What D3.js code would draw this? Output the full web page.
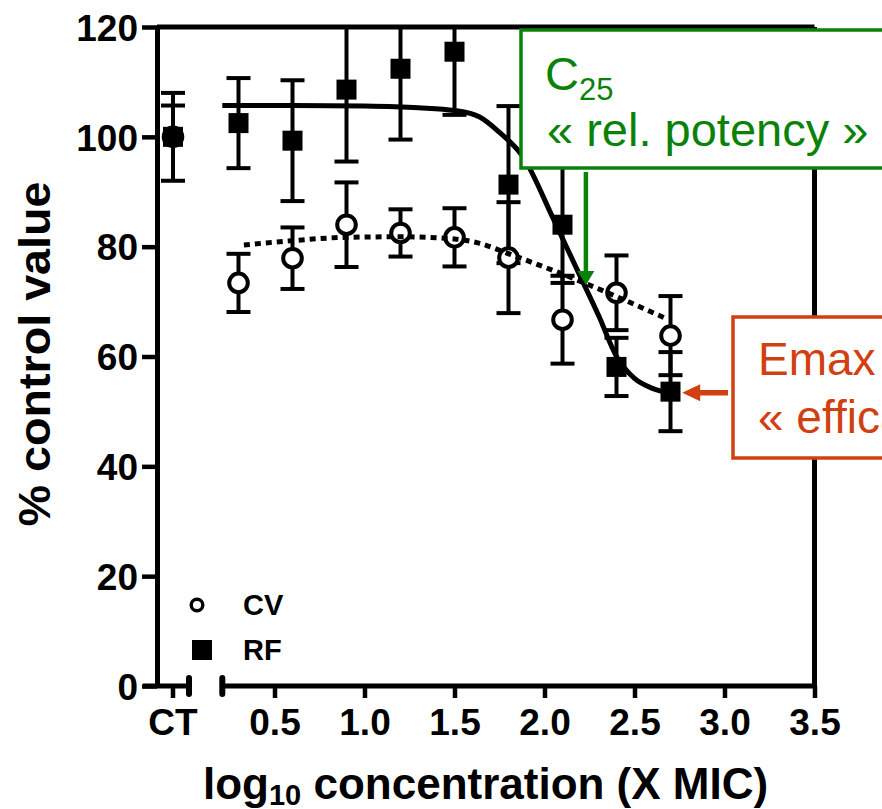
<!DOCTYPE html>
<html lang="en">
<head>
  <meta charset="UTF-8">
  <title>Dose response CV / RF</title>
  <style>
    body { margin: 0; background: #fff; }
    text { font-family: "Liberation Sans", Arial, sans-serif; }
  </style>
</head>
<body>
<svg width="882" height="809" id="viz"></svg>
<script src="https://cdn.jsdelivr.net/npm/d3@7"></script>
<script>
/* global d3 */

// concentrations (log10 X MIC), "CT" = control
let doses = ["CT", 0.3, 0.6, 0.9, 1.2, 1.5, 1.8, 2.1, 2.4, 2.7];

// CV (open circles), mean and error
let cvMean = [100, 73.4, 77.9, 84.0, 82.5, 81.7, 78.0, 66.7, 71.6, 63.8];
let cvErr  = [8.0, 5.3, 5.6, 7.7, 4.3, 5.3, 10.1, 8.0, 6.8, 7.2];

// RF (filled squares), mean, error above and below
let rfMean    = [100, 102.5, 99.3, 108.6, 112.4, 115.5, 91.3, 84.0, 58.1, 53.6];
let rfErrUp   = [5.7, 8.2, 11.0, 13.1, 12.9, 11.5, 14.3, 10.6, 5.3, 7.2];
let rfErrDown = [0, 8.2, 11.0, 13.1, 12.9, 11.5, 14.3, 10.6, 5.3, 7.2];

// fitted curves
let rfFitX = [0.21, 0.6, 1.0, 1.3, 1.5, 1.64, 1.75, 1.88, 2.05, 2.2, 2.3, 2.4, 2.5, 2.6, 2.7];
let rfFitY = [105.7, 105.7, 105.6, 105.3, 104.8, 103.6, 100.8, 96.4, 85.0, 74.5, 67.5, 60.0, 56.0, 54.2, 53.3];
let cvFitX = [0.33, 0.6, 0.9, 1.2, 1.5, 1.64, 1.81, 2.1, 2.38, 2.67];
let cvFitY = [80.3, 81.1, 81.7, 81.8, 81.4, 80.6, 78.6, 75.0, 71.2, 67.0];

let xTicks = [0.5, 1.0, 1.5, 2.0, 2.5, 3.0, 3.5];
let yTicks = [0, 20, 40, 60, 80, 100, 120];

// annotated points
let c25 = {x: 2.23, y: 73};
let emax = {x: 2.765, y: 53.4};

let svg = d3.select("#viz");

let x = d3.scaleLinear().domain([0, 3.5]).range([184.5, 814.5]);
let y = d3.scaleLinear().domain([0, 120]).range([686, 27]);
let ctX = 173;
let xPos = d => d === "CT" ? ctX : x(d);
let axisStart = 0.21;

svg.append("defs").append("clipPath").attr("id", "plotclip")
  .append("rect").attr("x", 140).attr("y", y(120)).attr("width", 690).attr("height", 700);

// frame (top + right)
svg.append("line").attr("x1", 157).attr("x2", x(3.5)).attr("y1", y(120)).attr("y2", y(120))
  .attr("stroke", "#000").attr("stroke-width", 5);
svg.append("line").attr("x1", x(3.5)).attr("x2", x(3.5)).attr("y1", y(120)).attr("y2", y(0))
  .attr("stroke", "#000").attr("stroke-width", 5);

// y axis
let yAxis = svg.append("g").attr("transform", "translate(157,0)")
  .call(d3.axisLeft(y).tickValues(yTicks).tickSize(15).tickPadding(4).tickSizeOuter(0));
yAxis.select(".domain").attr("stroke-width", 5);
yAxis.selectAll(".tick line").attr("stroke-width", 4.5);
yAxis.selectAll("text").attr("font-size", 37).attr("font-weight", "bold")
  .attr("font-family", "'Liberation Sans', Arial, sans-serif").attr("dy", "0.36em");

// x axis
let xAxis = svg.append("g").attr("transform", "translate(0,686)")
  .call(d3.axisBottom(x).tickValues(xTicks).tickSize(12).tickPadding(11).tickFormat(d3.format(".1f")));
xAxis.select(".domain").remove();
xAxis.selectAll(".tick line").attr("stroke-width", 4.5);
xAxis.selectAll("text").attr("font-size", 37).attr("font-weight", "bold")
  .attr("font-family", "'Liberation Sans', Arial, sans-serif");
xAxis.append("line").attr("x1", x(axisStart)).attr("x2", x(3.5)).attr("stroke", "#000").attr("stroke-width", 5);

// CT segment of the broken axis
xAxis.append("line").attr("x1", 143).attr("x2", 189).attr("stroke", "#000").attr("stroke-width", 5);
xAxis.append("line").attr("x1", ctX).attr("x2", ctX).attr("y1", 0).attr("y2", 12)
  .attr("stroke", "#000").attr("stroke-width", 4.5);
xAxis.append("text").attr("x", ctX).attr("y", 23).attr("dy", "0.71em").attr("text-anchor", "middle")
  .attr("font-size", 37).attr("font-weight", "bold").attr("fill", "#000").text("CT");
[189, x(axisStart)].forEach(px => {
  xAxis.append("line").attr("x1", px).attr("x2", px).attr("y1", -8).attr("y2", 8)
    .attr("stroke", "#000").attr("stroke-width", 6).attr("stroke-linecap", "round");
});

// axis titles
svg.append("text").attr("transform", "rotate(-90)").attr("x", -354).attr("y", 50)
  .attr("text-anchor", "middle").attr("font-size", 45).attr("font-weight", "bold")
  .attr("textLength", 345).attr("lengthAdjust", "spacingAndGlyphs")
  .text("% control value");

let xt = svg.append("text").attr("x", 203).attr("y", 799)
  .attr("font-size", 44).attr("font-weight", "bold");
xt.append("tspan").text("log");
xt.append("tspan").attr("font-size", 29).attr("dy", 6).text("10");
xt.append("tspan").attr("dy", -6).text(" concentration (X MIC)");

// data
let plot = svg.append("g").attr("clip-path", "url(#plotclip)");

let cvData = doses.map((d, i) => ({d: d, m: cvMean[i], lo: cvMean[i] - cvErr[i], hi: cvMean[i] + cvErr[i]}));
let rfData = doses.map((d, i) => ({d: d, m: rfMean[i],
  lo: rfErrDown[i] ? rfMean[i] - rfErrDown[i] : null, hi: rfMean[i] + rfErrUp[i]}));

function errorBars(data) {
  let g = plot.append("g").attr("stroke", "#000").attr("stroke-width", 4);
  data.forEach(p => {
    let cx = xPos(p.d);
    let lo = p.lo === null ? p.m : p.lo;
    g.append("line").attr("x1", cx).attr("x2", cx).attr("y1", y(lo)).attr("y2", y(p.hi));
    g.append("line").attr("x1", cx - 12).attr("x2", cx + 12).attr("y1", y(p.hi)).attr("y2", y(p.hi));
    if (p.lo !== null)
      g.append("line").attr("x1", cx - 12).attr("x2", cx + 12).attr("y1", y(p.lo)).attr("y2", y(p.lo));
  });
}
errorBars(cvData);
errorBars(rfData);

plot.selectAll(".cv").data(cvData).enter().append("circle").attr("class", "cv")
  .attr("cx", p => xPos(p.d)).attr("cy", p => y(p.m)).attr("r", 9.3)
  .attr("fill", "#fff").attr("stroke", "#000").attr("stroke-width", 4);

plot.selectAll(".rf").data(rfData).enter().append("rect").attr("class", "rf")
  .attr("x", p => xPos(p.d) - 10).attr("y", p => y(p.m) - 10)
  .attr("width", 20).attr("height", 20).attr("fill", "#000");

// fits
let line = d3.line().x(d => x(d[0])).y(d => y(d[1])).curve(d3.curveMonotoneX);
plot.append("path").datum(cvFitX.map((v, i) => [v, cvFitY[i]])).attr("d", line)
  .attr("fill", "none").attr("stroke", "#000").attr("stroke-width", 5).attr("stroke-dasharray", "6,5");
plot.append("path").datum(rfFitX.map((v, i) => [v, rfFitY[i]])).attr("d", line)
  .attr("fill", "none").attr("stroke", "#000").attr("stroke-width", 5);

// legend
svg.append("circle").attr("cx", 197).attr("cy", 605).attr("r", 5.8)
  .attr("fill", "#fff").attr("stroke", "#000").attr("stroke-width", 3.4);
svg.append("rect").attr("x", 192).attr("y", 640).attr("width", 20).attr("height", 20).attr("fill", "#000");
svg.append("text").attr("x", 243).attr("y", 615).attr("font-size", 29).attr("font-weight", "bold").text("CV");
svg.append("text").attr("x", 243).attr("y", 660).attr("font-size", 29).attr("font-weight", "bold").text("RF");

// annotations
let green = "#0a820a", red = "#d04010";

svg.append("rect").attr("x", 521).attr("y", 30).attr("width", 420).attr("height", 138)
  .attr("fill", "#fff").attr("stroke", green).attr("stroke-width", 3.5);
let t1 = svg.append("text").attr("x", 545).attr("y", 90).attr("font-size", 47).attr("fill", green);
t1.append("tspan").text("C");
t1.append("tspan").attr("font-size", 31).attr("dy", 10).text("25");
svg.append("text").attr("x", 547).attr("y", 146).attr("font-size", 47).attr("fill", green)
  .text("\u00ab rel. potency \u00bb");

let gx = x(c25.x), gy = y(c25.y);
svg.append("line").attr("x1", gx).attr("x2", gx).attr("y1", 172).attr("y2", gy - 12)
  .attr("stroke", green).attr("stroke-width", 4.5);
svg.append("path").attr("d", `M${gx - 8.5},${gy - 14}L${gx + 8.5},${gy - 14}L${gx},${gy}Z`).attr("fill", green);

svg.append("rect").attr("x", 733).attr("y", 317).attr("width", 300).attr("height", 141)
  .attr("fill", "#fff").attr("stroke", red).attr("stroke-width", 3.5);
svg.append("text").attr("x", 758).attr("y", 375).attr("font-size", 46).attr("fill", red).text("Emax");
svg.append("text").attr("x", 758).attr("y", 433).attr("font-size", 46).attr("fill", red)
  .text("\u00ab efficacy \u00bb");

let ex = x(emax.x), ey = y(emax.y);
svg.append("line").attr("x1", 728).attr("x2", ex + 16).attr("y1", ey).attr("y2", ey)
  .attr("stroke", red).attr("stroke-width", 5.5);
svg.append("path").attr("d", `M${ex + 18},${ey - 8.5}L${ex + 18},${ey + 8.5}L${ex},${ey}Z`).attr("fill", red);
</script>
</body>
</html>
